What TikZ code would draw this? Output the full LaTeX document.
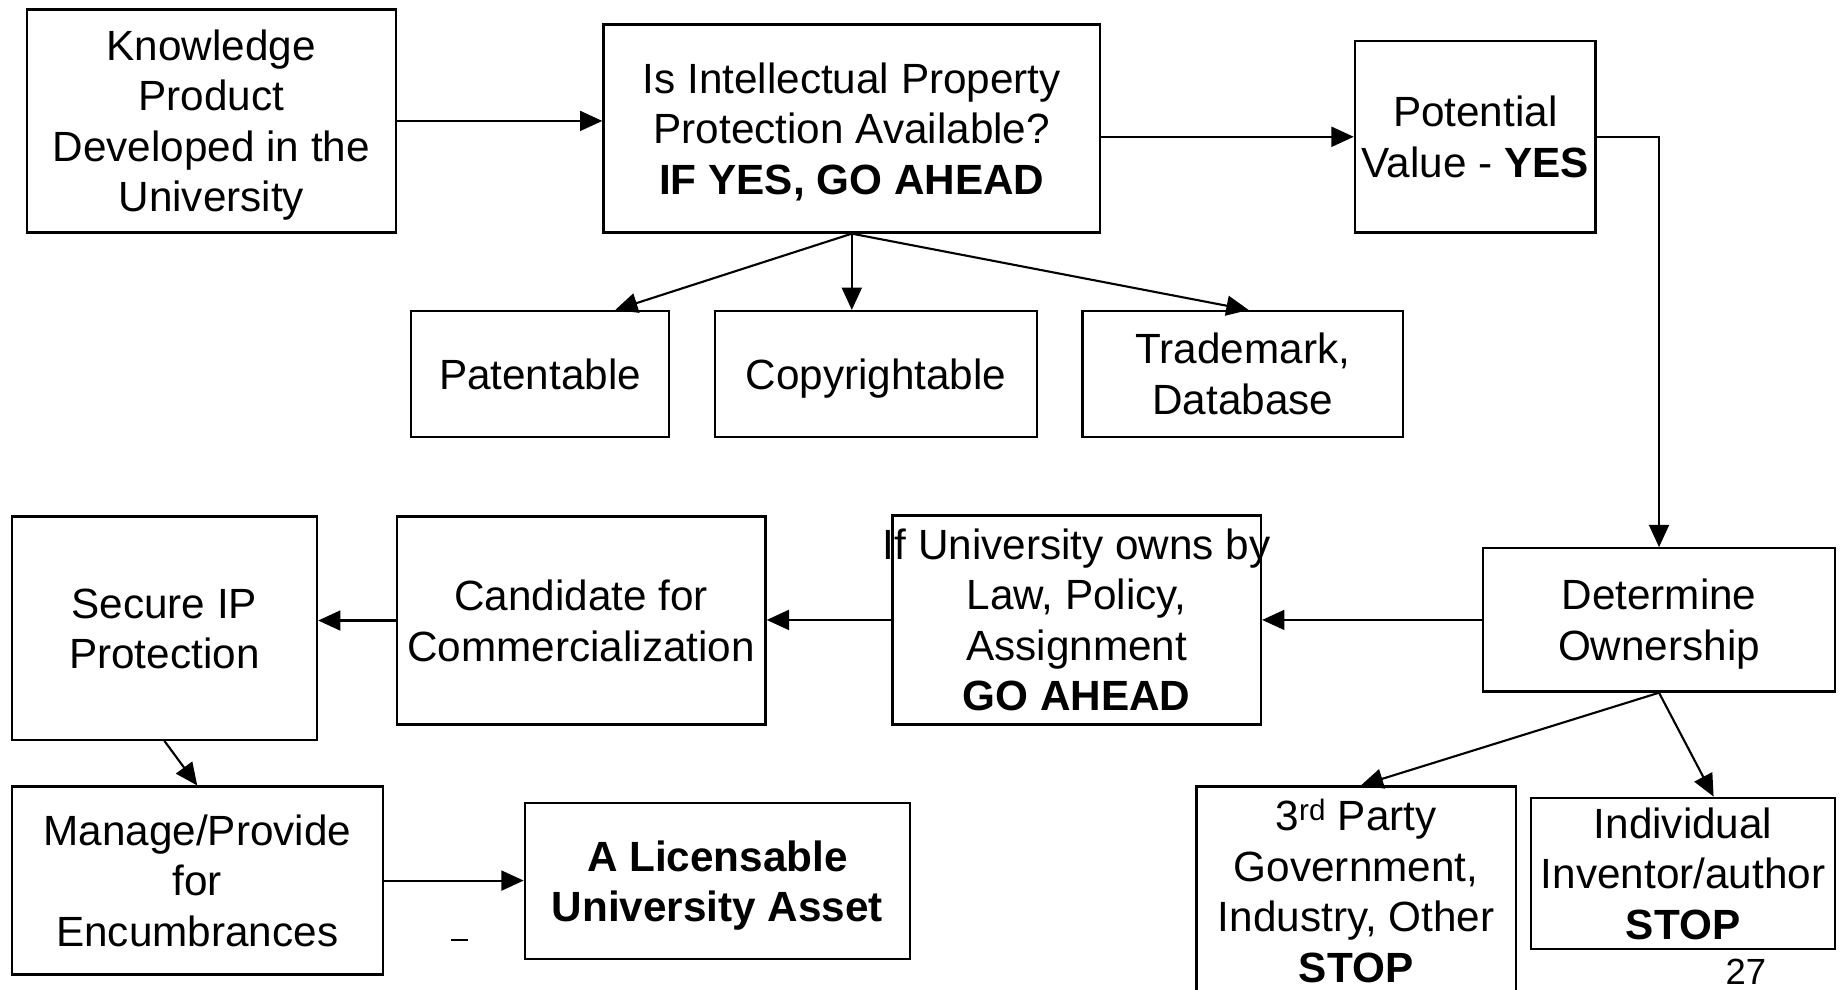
\documentclass[tikz,border=0pt]{standalone}
\usepackage{fontspec}
\setmainfont{Liberation Sans}
\usetikzlibrary{arrows.meta}
% line strut: keeps every text line the same height so blocks centre evenly
\newcommand\sx{\rule[-8.5pt]{0pt}{43pt}}
\begin{document}
\begin{tikzpicture}[x=1pt,y=-1pt,
  box/.style={draw, line width=2pt, inner sep=0pt, align=center,
    font=\fontsize{36}{43}\selectfont},
  arr/.style={line width=1.8pt, -{Triangle[length=19pt,width=17pt]}}]
\useasboundingbox (0,0) rectangle (1568,843);
\fill[white] (0,0) rectangle (1568,843);
\clip (0,0) rectangle (1568,843);

% top row
\node[box, minimum width=314pt, minimum height=190pt] (know) at (180,103)
  {\sx Knowledge\\\sx Product\\\sx Developed in the\\\sx University};
\node[box, minimum width=423pt, minimum height=177pt] (ip) at (725.5,109.5)
  {\sx Is Intellectual Property\\\sx Protection Available?\\\sx\textbf{IF YES, GO AHEAD}};
\node[box, minimum width=205pt, minimum height=163pt] (pot) at (1256.5,116.5)
  {\sx Potential\\\sx Value - \textbf{YES}};

% kinds of protection
\node[box, minimum width=220pt, minimum height=107pt] (pat) at (460,318.5)
  {\sx Patentable};
\node[box, minimum width=274pt, minimum height=107pt] (copy) at (746,318.5)
  {\sx Copyrightable};
\node[box, minimum width=273pt, minimum height=107pt] (tm) at (1058.5,318.5)
  {\sx Trademark,\\\sx Database};

% middle row
\node[box, minimum width=260pt, minimum height=190pt] (sec) at (140,535)
  {\sx Secure IP\\\sx Protection};
\node[box, minimum width=314pt, minimum height=177pt] (cand) at (495,528.5)
  {\sx Candidate for\\\sx Commercialization};
\node[box, minimum width=314pt, minimum height=178pt] (univ) at (917,528)
  {\makebox[300pt]{\sx If University owns by}\\\sx Law, Policy,\\\sx Assignment\\\sx\textbf{GO AHEAD}};
\node[box, minimum width=300pt, minimum height=122pt] (det) at (1413,528)
  {\sx Determine\\\sx Ownership};

% bottom row
\node[box, minimum width=316pt, minimum height=160pt] (man) at (168,750)
  {\sx Manage/Provide\\\sx for\\\sx Encumbrances};
\node[box, minimum width=328pt, minimum height=133pt] (lic) at (611,750.5)
  {\sx\textbf{A Licensable}\\\sx\textbf{University Asset}};
\node[box, minimum width=272pt, minimum height=178pt] (third) at (1155,759)
  {\sx 3\textsuperscript{rd} Party\\\sx Government,\\\sx Industry, Other\\\sx\textbf{STOP}};
\node[box, minimum width=259pt, minimum height=120pt] (indiv) at (1433.5,744)
  {\sx Individual\\\sx Inventor/author\\\sx\textbf{STOP}};

\node[font=\fontsize{31}{36}\selectfont, inner sep=0pt] (page) at (1487,827.5) {27};

% connectors
\draw[arr] (know.east) -- (know.east -| ip.west);
\draw[arr] (ip.east |- pot.west) -- (pot.west);
\draw[arr] (pot.east) -- (pot.east -| det.north) -- (det.north);
\draw[arr] (ip.south) -- ([xshift=64pt]pat.north);
\draw[arr] (ip.south) -- (ip.south |- copy.north);
\draw[arr] (ip.south) -- ([xshift=5pt]tm.north);
\draw[arr] (det.west) -- (det.west -| univ.east);
\draw[arr] (univ.west) -- (univ.west -| cand.east);
\draw[arr] (cand.west) -- (cand.west -| sec.east);
\draw[arr] (sec.south) -- (man.north);
\draw[arr] (man.east) -- (man.east -| lic.west);
\draw[arr] (det.south) -- ([xshift=4pt]third.north);
\draw[arr] (det.south) -- ([xshift=26pt]indiv.north);

% small stray mark below the asset arrow
\draw[line width=1.5pt] (384,800.5) -- (399,800.5);
\end{tikzpicture}
\end{document}
